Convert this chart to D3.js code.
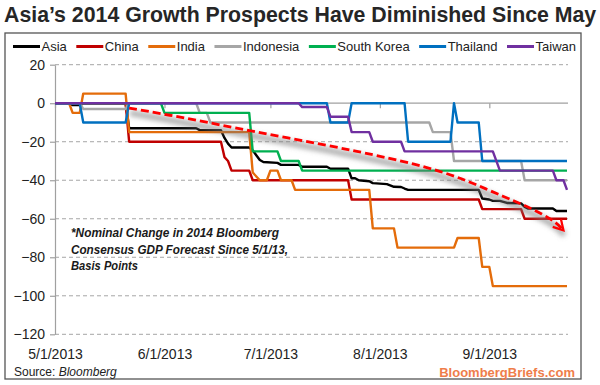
<!DOCTYPE html>
<meta charset="utf-8">
<style>
  body { margin: 0; background: #fff; }
  svg { display: block; font-family: "Liberation Sans", Arial, sans-serif; }
  .grid line { stroke: #a6a6a6; stroke-width: 1; stroke-dasharray: 4,3; }
  .series { fill: none; stroke-width: 2.4; stroke-linejoin: round; }
  .yaxis path, .yaxis line, .zero path, .zero line { stroke: #a0a0a0; stroke-width: 1.2; }
  .yaxis text, .xlabels text { font-size: 14px; fill: #222; }
  .legend text { font-size: 13px; fill: #222; }
  .note { font-size: 13px; font-weight: bold; font-style: italic; fill: #1a1a1a; }
</style>
<svg width="600" height="385"></svg>
<script src="https://d3js.org/d3.v7.min.js"></script>
<script>

// change in 2014 GDP forecast, basis points, read at the step dates
var asia = [["5/1",0],["5/5",0],["5/6",-1],["5/8",-1],["5/9",0],["5/21",0],["5/22",-13],["6/10",-13],["6/11",-14],
  ["6/17",-14],["6/18",-18],["6/19",-21],["6/20",-23],["6/25",-23],["6/26",-24.5],["6/27",-27],["6/28",-29.5],
  ["6/29",-30.5],["7/3",-31],["7/4",-32],["7/9",-32],["7/10",-33],["7/17",-33],["7/18",-34],["7/23",-34],
  ["7/24",-39],["7/25",-39],["7/26",-40],["7/29",-40.5],["7/30",-41.5],["8/3",-42],["8/5",-43.4],["8/7",-43.5],
  ["8/8",-44.3],["8/9",-45],["8/29",-45],["8/30",-49.5],["9/1",-50],["9/2",-50.7],["9/4",-50.7],["9/5",-51.2],
  ["9/6",-51.8],["9/10",-52],["9/11",-53.8],["9/12",-54.7],["9/19",-54.7],["9/20",-56],["9/23",-56]];
var china = [["5/1",0],["5/21",0],["5/22",-20],["6/17",-20],["6/18",-28],["6/19",-30],["6/20",-35],["6/25",-35],
  ["6/26",-40],["7/23",-40],["7/24",-50],["8/29",-50],["8/30",-55],["9/10",-55],["9/11",-60],["9/23",-60]];
var india = [["5/1",0],["5/5",0],["5/6",-5],["5/8",-5],["5/9",5],["5/21",5],["5/22",-15],["6/25",-15],["6/26",-36],
  ["6/28",-40],["6/30",-40],["7/1",-35],["7/3",-35],["7/4",-40],["7/7",-40],["7/8",-45],["7/29",-45],["7/30",-65],
  ["8/5",-65],["8/6",-75],["8/22",-75],["8/23",-70],["8/29",-70],["8/30",-85],["9/1",-85],["9/2",-95],["9/23",-95]];
var indonesia = [["5/1",0],["5/8",0],["5/9",-3],["5/21",-3],["5/22",0],["6/10",0],["6/11",-5],["6/13",-5],["6/14",-10],
  ["8/15",-10],["8/16",-15],["8/21",-15],["8/22",-30],["9/10",-30],["9/11",-40],["9/23",-40]];
var southKorea = [["5/1",0],["5/31",0],["6/1",-5],["6/25",-5],["6/26",-25],["7/3",-25],["7/4",-30],["7/9",-30],
  ["7/10",-35],["9/23",-35]];
var thailand = [["5/1",0],["5/8",0],["5/9",-10],["5/21",-10],["5/22",0],["7/17",0],["7/18",-10],["7/23",-10],["7/24",0],
  ["8/8",0],["8/9",-20],["8/21",-20],["8/22",0],["8/23",-10],["8/29",-10],["8/30",-30],["9/23",-30]];
var taiwan = [["5/1",0],["7/9",0],["7/10",-2],["7/17",-2],["7/18",-7],["7/23",-7],["7/24",-15],["7/29",-15],["7/30",-20],
  ["8/7",-20],["8/8",-25],["9/2",-25],["9/4",-35],["9/19",-35],["9/20",-40],["9/22",-40],["9/23",-45]];

var seriesNames = ["Asia", "China", "India", "Indonesia", "South Korea", "Thailand", "Taiwan"];
var seriesColors = ["#000000", "#c00000", "#e46c0a", "#a6a6a6", "#00b050", "#0070c0", "#7030a0"];
var allSeries = [asia, china, india, indonesia, southKorea, thailand, taiwan];

var yTicks = [20, 0, -20, -40, -60, -80, -100, -120];
var xTicks = ["5/1", "6/1", "7/1", "8/1", "9/1"];

// hand drawn trend arrow (date, bp)
var trendArrow = [["5/22",-2.5],["6/2",-6],["6/16",-11],["7/6",-18],["7/26",-25],["8/12",-32],["8/21",-37],
  ["8/28",-42],["9/5",-48.5],["9/11",-53],["9/16",-57.5],["9/20",-62],["9/22",-66]];

var noteLines = ["*Nominal Change in 2014 Bloomberg", "Consensus GDP Forecast Since 5/1/13,", "Basis Points"];
var noteWidths = [208, 217, 67];

var parse = function(s) { return d3.timeParse("%m/%d/%Y")(s + "/2013"); };

var svg = d3.select("svg");

var x = d3.scaleTime().domain([parse("5/1"), parse("9/23")]).range([55, 567]);
var y = d3.scaleLinear().domain([-120, 20]).range([334.3, 64.7]);

var defs = svg.append("defs");
defs.append("filter").attr("id", "blur")
    .attr("x", "-20%").attr("y", "-50%").attr("width", "140%").attr("height", "200%")
  .append("feGaussianBlur").attr("stdDeviation", 2.5);
defs.append("marker").attr("id", "head")
    .attr("viewBox", "0 0 10 10").attr("refX", 8).attr("refY", 5)
    .attr("markerWidth", 5).attr("markerHeight", 5).attr("orient", "auto")
    .attr("markerUnits", "strokeWidth")
  .append("path").attr("d", "M1,1 L8,5 L1,9").attr("fill", "none")
    .attr("stroke", "#ff0000").attr("stroke-width", 1.6);

// outer frame
svg.append("rect").attr("x", 5).attr("y", 33).attr("width", 576).attr("height", 346)
    .attr("fill", "none").attr("stroke", "#555").attr("stroke-width", 1.3);

svg.append("text").attr("x", 4).attr("y", 22)
    .attr("font-size", "21.3px").attr("font-weight", "bold").attr("fill", "#262626")
    .text("Asia\u2019s 2014 Growth Prospects Have Diminished Since May");

// gridlines
svg.append("g").attr("class", "grid")
  .selectAll("line").data(yTicks.filter(function(d) { return d != 0; }))
  .enter().append("line")
    .attr("x1", 55).attr("x2", 568)
    .attr("y1", function(d) { return y(d); }).attr("y2", function(d) { return y(d); });

var yAxis = svg.append("g").attr("class", "yaxis").attr("transform", "translate(55,0)")
    .call(d3.axisLeft(y).tickValues(yTicks).tickSize(5).tickSizeOuter(0).tickPadding(5));
yAxis.selectAll("text").attr("font-family", null).attr("font-size", null);

svg.append("g").attr("class", "zero").attr("transform", "translate(0," + y(0) + ")")
    .call(d3.axisBottom(x).tickValues(xTicks.map(parse)).tickSize(5).tickSizeOuter(0).tickFormat(""))
    .select(".domain").attr("d", "M55,0H568");

var xl = svg.append("g").attr("class", "xlabels").attr("transform", "translate(0,349)")
    .call(d3.axisBottom(x).tickValues(xTicks.map(parse)).tickSize(0).tickPadding(0)
      .tickFormat(d3.timeFormat("%-m/%-d/%Y")));
xl.select(".domain").remove();
xl.selectAll("text").attr("font-family", null).attr("font-size", null);

var line = d3.line()
    .x(function(d) { return x(parse(d[0])); })
    .y(function(d) { return y(d[1]); });

svg.append("g").selectAll("path").data(allSeries)
  .enter().append("path")
    .attr("class", "series")
    .attr("stroke", function(d, i) { return seriesColors[i]; })
    .attr("d", line);

// trend arrow with its soft shadow
var arrowLine = d3.line().curve(d3.curveBasis)
    .x(function(d) { return x(parse(d[0])); })
    .y(function(d) { return y(d[1]); });
svg.append("path").attr("d", arrowLine(trendArrow))
    .attr("transform", "translate(1,5)")
    .attr("fill", "none").attr("stroke", "#7a7a7a").attr("stroke-opacity", 0.6)
    .attr("stroke-width", 6).attr("filter", "url(#blur)");
svg.append("path").attr("d", arrowLine(trendArrow))
    .attr("fill", "none").attr("stroke", "#ff0000").attr("stroke-width", 2.8)
    .attr("stroke-dasharray", "8,4").attr("marker-end", "url(#head)");

// legend
var legend = svg.append("g").attr("class", "legend");
var lx = 13;
seriesNames.forEach(function(name, i) {
  legend.append("line").attr("x1", lx).attr("x2", lx + 27).attr("y1", 46.5).attr("y2", 46.5)
      .attr("stroke", seriesColors[i]).attr("stroke-width", 3);
  var t = legend.append("text").attr("x", lx + 28.5).attr("y", 51).text(name);
  lx += 28.5 + t.node().getComputedTextLength() + 9.5;
});

svg.append("g").selectAll("text").data(noteLines)
  .enter().append("text")
    .attr("class", "note")
    .attr("x", 71)
    .attr("y", function(d, i) { return 237 + i * 16.7; })
    .attr("textLength", function(d, i) { return noteWidths[i]; })
    .attr("lengthAdjust", "spacingAndGlyphs")
    .text(function(d) { return d; });

var src = svg.append("text").attr("x", 14).attr("y", 376).attr("font-size", "12px").attr("fill", "#222");
src.append("tspan").text("Source: ");
src.append("tspan").attr("font-style", "italic").text("Bloomberg");

svg.append("text").attr("x", 575).attr("y", 377).attr("text-anchor", "end")
    .attr("font-size", "13px").attr("font-weight", "bold").attr("fill", "#ef7d4a")
    .text("BloombergBriefs.com");

</script>
